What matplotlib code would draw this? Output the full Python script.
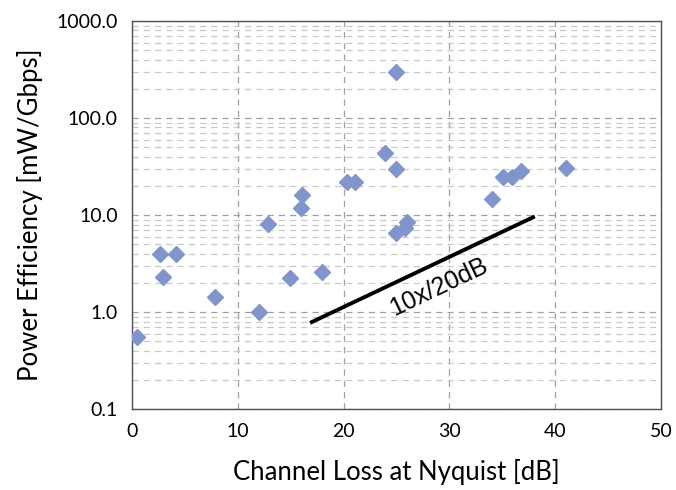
import matplotlib
matplotlib.use("Agg")
from matplotlib import pyplot as plt
from matplotlib.ticker import FixedLocator, FuncFormatter, LogLocator, NullFormatter

# channel loss [dB] and power efficiency [mW/Gbps]
loss_db = [0.5, 2.7, 4.2, 2.9, 7.9, 12.0, 12.9, 14.9, 16.1, 16.0, 18.0,
           20.3, 21.1, 23.9, 25.0, 25.0, 25.0, 25.8, 26.0,
           34.0, 35.1, 35.9, 36.8, 41.0]
efficiency = [0.55, 4.0, 4.0, 2.3, 1.43, 1.0, 8.1, 2.24, 16.0, 11.8, 2.6,
              22.0, 22.0, 43.5, 300.0, 30.0, 6.6, 7.3, 8.4,
              14.6, 25.0, 25.0, 28.5, 30.5]

# trend line: 10x per 20 dB
trend_x = [17.0, 37.9]
trend_y = [0.79, 9.5]
trend_label = "10x/20dB"

x_ticks = [0, 10, 20, 30, 40, 50]
y_ticks = [0.1, 1, 10, 100, 1000]

fig = plt.figure(figsize=(6.76, 4.9), dpi=100)
ax = fig.add_axes([0.195, 0.165, 0.783, 0.792])

ax.set_yscale("log")
ax.set_xlim(0, 50)
ax.set_ylim(0.1, 1000)

# grid lines first so the markers sit on top
ax.yaxis.set_major_locator(FixedLocator(y_ticks))
ax.yaxis.set_minor_locator(LogLocator(base=10, subs=range(2, 10)))
ax.yaxis.set_minor_formatter(NullFormatter())
ax.yaxis.set_major_formatter(FuncFormatter(lambda v, p: "%.1f" % v))
ax.xaxis.set_major_locator(FixedLocator(x_ticks))
ax.grid(which="major", axis="both", color="#a0a0a0", linestyle=(0, (5, 4)), linewidth=0.9)
ax.grid(which="minor", axis="y", color="#c8c8c8", linestyle=(0, (5, 4)), linewidth=0.9)
ax.set_axisbelow(True)

ax.plot(loss_db, efficiency, linestyle="none", marker="D", markersize=8.5,
        color="#7f95cb", zorder=3)
ax.plot(trend_x, trend_y, color="black", linewidth=2.8, zorder=3)
ax.text(29.0, 1.8, trend_label, rotation=25.5, ha="center", va="center",
        fontsize=18, family="Liberation Sans", zorder=4)

ax.tick_params(which="both", length=0, labelsize=14, pad=10)
for lbl in ax.get_xticklabels() + ax.get_yticklabels():
    lbl.set_family("Lato")
for s in ax.spines.values():
    s.set_color("#505050")
    s.set_linewidth(1.0)

ax.set_xlabel("Channel Loss at Nyquist [dB]", fontsize=18.5, family="Lato", labelpad=14)
ax.set_ylabel("Power Efficiency [mW/Gbps]", fontsize=18.5, family="Lato", labelpad=10)

fig.savefig("out.png", dpi=100)
